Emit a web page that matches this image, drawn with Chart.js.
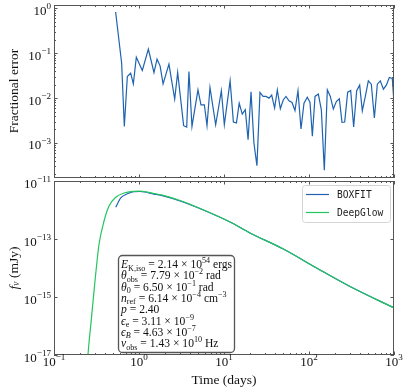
<!DOCTYPE html>
<html>
<head>
<meta charset="utf-8">
<script src="https://cdn.jsdelivr.net/npm/chart.js@4.4.1/dist/chart.umd.min.js"></script>
<style>
  html, body { margin: 0; background: #fff; }
  #wrap { position: relative; width: 407px; height: 391px; }
  canvas { position: absolute; left: 0; top: 0; }
</style>
</head>
<body>
<div id="wrap">
  <canvas id="errChart" width="407" height="391"></canvas>
  <canvas id="fluxChart" width="407" height="391"></canvas>
</div>
<script>
// ── DATA ─────────────────────────────────────────────
const errTime = [0.531, 0.625, 0.672, 0.729, 0.798, 0.858, 0.930, 1.094, 1.288, 1.50, 1.63, 1.77, 1.92, 2.25, 2.63, 2.85,
  3.35, 3.64, 3.87, 4.20, 4.94, 5.36, 5.87, 6.31, 6.84, 7.98, 9.31, 10.09, 11.8, 12.9, 14.0, 15.1, 16.4, 17.8, 19.2,
  20.8, 22.5, 24.4, 26.5, 28.8, 31.2, 33.8, 36.4, 39.4, 42.4, 46.0, 49.9, 53.6, 58.2, 63.1, 68.4, 74.2, 80.5, 87.3,
  95.5, 102.8, 109.5, 117.7, 128.8, 139.7, 151.4, 164.3, 178.2, 193.3, 209.7, 227.5, 244.5, 262.9, 285.1, 309.3,
  335.2, 363.8, 394.6, 423.8, 460.0, 498.9, 541.0, 587.4, 636.8, 690.6, 749.9, 812.8, 881.0, 955.0, 1000];
const errValue = [0.829, 0.060, 0.00234, 0.0303, 0.036, 0.0208, 0.0815, 0.0412, 0.123, 0.0372, 0.0736, 0.0523, 0.0208,
  0.057, 0.0095, 0.0372, 0.00243, 0.00227, 0.0392, 0.00234, 0.0153, 0.0071, 0.0071, 0.00243, 0.0173, 0.00255, 0.0146,
  0.00255, 0.0243, 0.00293, 0.00278, 0.0077, 0.0044, 0.0055, 0.00119, 0.0138, 0.0010, 0.000313, 0.0134, 0.0109, 0.0109,
  0.0100, 0.0117, 0.0060, 0.0153, 0.0058, 0.0092, 0.0109, 0.0087, 0.0080, 0.0053, 0.0146, 0.00205, 0.0077, 0.0105,
  0.0080, 0.00141, 0.0109, 0.0123, 0.0055, 0.000247, 0.0153, 0.0109, 0.0057, 0.0084, 0.0097, 0.00288, 0.00293, 0.0136,
  0.0148, 0.00227, 0.0146, 0.0195, 0.0052, 0.0109, 0.0243, 0.0205, 0.0036, 0.0205, 0.0243, 0.0158, 0.0195, 0.0288,
  0.0274, 0.0077];

const boxTime = [0.532, 0.61, 0.743, 0.873, 1.03, 1.50, 1.93, 3.04, 4.77, 11.8, 20.2, 49.9, 123, 304, 1000];
const boxFlux = [1.24e-12, 2.6e-12, 3.7e-12, 4.3e-12, 4.35e-12, 3.55e-12, 3.05e-12, 2.05e-12, 1.25e-12, 3.86e-13,
  1.62e-13, 4.5e-14, 1.0e-14, 2.3e-15, 4.2e-16];

const glowTime = [0.245, 0.251, 0.276, 0.306, 0.338, 0.388, 0.444, 0.532, 0.667, 0.873, 1.03, 1.50, 1.93, 3.04, 4.77,
  11.8, 20.2, 49.9, 123, 304, 1000];
const glowFlux = [3.2e-18, 1e-17, 1.9e-16, 4.5e-15, 6.35e-14, 4.18e-13, 1.37e-12, 2.74e-12, 3.85e-12, 4.41e-12, 4.5e-12,
  3.7e-12, 3.21e-12, 2.13e-12, 1.27e-12, 3.86e-13, 1.62e-13, 4.5e-14, 1.0e-14, 2.3e-15, 4.2e-16];

const xDecades = [-1, 0, 1, 2, 3];
const errDecades = [0, -1, -2, -3];
const fluxDecades = [-11, -13, -15, -17];

// parameter box: [text, style]  i = italic, b = subscript, p = superscript
const paramLines = [
  [['E', 'i'], ['K,iso', 'b'], [' = 2.14 × 10', ''], ['54', 'p'], [' ergs', '']],
  [['θ', 'i'], ['obs', 'b'], [' = 7.79 × 10', ''], ['−2', 'p'], [' rad', '']],
  [['θ', 'i'], ['0', 'b'], [' = 6.50 × 10', ''], ['−1', 'p'], [' rad', '']],
  [['n', 'i'], ['ref', 'b'], [' = 6.14 × 10', ''], ['−4', 'p'], [' cm', ''], ['−3', 'p']],
  [['p', 'i'], [' = 2.40', '']],
  [['ϵ', 'i'], ['e', 'b'], [' = 3.11 × 10', ''], ['−9', 'p']],
  [['ϵ', 'i'], ['B', 'bi'], [' = 4.63 × 10', ''], ['−7', 'p']],
  [['ν', 'i'], ['obs', 'b'], [' = 1.43 × 10', ''], ['10', 'p'], [' Hz', '']]
];

const BLUE = '#1f63b0';
const GREEN = '#22c55e';
const FRAME = '#555555';
const SERIF = '"Liberation Serif", "DejaVu Serif", serif';
const MONO = '"DejaVu Sans Mono", monospace';

// ── helpers ──────────────────────────────────────────
function rich(ctx, x, y, parts, size, measureOnly) {
  const x0 = x;
  parts.forEach(([t, s]) => {
    const small = s.includes('b') || s.includes('p');
    const fs = small ? size * 0.7 : size;
    ctx.font = (s.includes('i') ? 'italic ' : '') + fs + 'px ' + SERIF;
    const dy = s.includes('b') ? size * 0.22 : s.includes('p') ? -size * 0.42 : 0;
    if (!measureOnly) ctx.fillText(t, x, y + dy);
    x += ctx.measureText(t).width;
  });
  return x - x0;
}
const pow10 = e => [['10', ''], [e < 0 ? '−' + (-e) : String(e), 'p']];

function frameTicks(cfg) {
  return {
    id: 'frameTicks',
    afterDraw(chart) {
      const { ctx, chartArea: a, scales: { x, y } } = chart;
      ctx.save();
      ctx.strokeStyle = FRAME;
      ctx.lineWidth = 1;
      ctx.strokeRect(a.left + 0.5, a.top + 0.5, a.right - a.left - 1, a.bottom - a.top - 1);
      ctx.beginPath();
      // x ticks on top and bottom
      xDecades.forEach(e => {
        for (let k = 1; k <= 9; k++) {
          const v = k * Math.pow(10, e);
          if (v < x.min * 0.999 || v > x.max * 1.001) continue;
          const px = Math.round(x.getPixelForValue(v)) + 0.5;
          const len = k === 1 ? 3.5 : 2;
          ctx.moveTo(px, a.bottom); ctx.lineTo(px, a.bottom - len);
          ctx.moveTo(px, a.top); ctx.lineTo(px, a.top + len);
        }
      });
      // y ticks on left and right
      cfg.yMajor.forEach(e => {
        const ks = cfg.yMinor ? [1, 2, 3, 4, 5, 6, 7, 8, 9] : [1];
        ks.forEach(k => {
          const v = k * Math.pow(10, e);
          if (v < y.min || v > y.max) return;
          const py = Math.round(y.getPixelForValue(v)) + 0.5;
          const len = k === 1 ? 3.5 : 2;
          ctx.moveTo(a.left, py); ctx.lineTo(a.left + len, py);
          ctx.moveTo(a.right, py); ctx.lineTo(a.right - len, py);
        });
      });
      ctx.stroke();

      ctx.fillStyle = '#111';
      ctx.textAlign = 'left';
      ctx.textBaseline = 'alphabetic';
      cfg.yLabels.forEach(e => {
        const py = y.getPixelForValue(Math.pow(10, e));
        const w = rich(ctx, 0, 0, pow10(e), 13, true);
        rich(ctx, a.left - 3 - w, py + 6.5, pow10(e), 13);
      });
      if (cfg.xLabels) {
        xDecades.forEach(e => {
          const px = x.getPixelForValue(Math.pow(10, e));
          const w = rich(ctx, 0, 0, pow10(e), 13, true);
          rich(ctx, px - w / 2, a.bottom + 10.5, pow10(e), 13);
        });
      }
      ctx.restore();
    }
  };
}

const logX = { type: 'logarithmic', min: 0.1, max: 1000, display: false };
const baseOpts = {
  responsive: false,
  animation: false,
  events: [],
  plugins: { legend: { display: false }, tooltip: { enabled: false } }
};

// ── FRACTIONAL ERROR PANEL ───────────────────────────
new Chart(document.getElementById('errChart'), {
  type: 'line',
  data: {
    datasets: [{
      data: errTime.map((t, i) => ({ x: t, y: errValue[i] })),
      borderColor: BLUE, borderWidth: 1.2, pointRadius: 0, tension: 0
    }]
  },
  options: {
    ...baseOpts,
    layout: { padding: { left: 54, right: 13, top: 5, bottom: 213 } },
    scales: {
      x: logX,
      y: { type: 'logarithmic', min: Math.pow(10, -3.78), max: Math.pow(10, 0.075), display: false }
    }
  },
  plugins: [frameTicks({ yMajor: [-4, -3, -2, -1, 0], yMinor: true, yLabels: errDecades, xLabels: false }), {
    id: 'errLabel',
    afterDraw(chart) {
      const { ctx } = chart;
      ctx.save();
      ctx.translate(14, 91);
      ctx.rotate(-Math.PI / 2);
      ctx.font = '13.5px ' + SERIF;
      ctx.fillStyle = '#111';
      ctx.textAlign = 'center';
      ctx.textBaseline = 'middle';
      ctx.fillText('Fractional error', 0, 0);
      ctx.restore();
    }
  }]
});

// ── FLUX PANEL ───────────────────────────────────────
new Chart(document.getElementById('fluxChart'), {
  type: 'line',
  data: {
    datasets: [
      { label: 'BOXFIT', data: boxTime.map((t, i) => ({ x: t, y: boxFlux[i] })),
        borderColor: BLUE, borderWidth: 1.2, pointRadius: 0, cubicInterpolationMode: 'monotone', order: 2 },
      { label: 'DeepGlow', data: glowTime.map((t, i) => ({ x: t, y: glowFlux[i] })),
        borderColor: GREEN, borderWidth: 1.2, pointRadius: 0, cubicInterpolationMode: 'monotone', order: 1 }
    ]
  },
  options: {
    ...baseOpts,
    layout: { padding: { left: 54, right: 13, top: 181, bottom: 36 } },
    scales: {
      x: logX,
      y: { type: 'logarithmic', min: 1e-17, max: 1e-11, display: false }
    }
  },
  plugins: [frameTicks({ yMajor: fluxDecades, yMinor: false, yLabels: fluxDecades, xLabels: true }), {
    id: 'fluxDecor',
    afterDraw(chart) {
      const { ctx } = chart;
      ctx.save();
      // legend
      ctx.beginPath();
      ctx.roundRect(302.5, 185.5, 88, 37, 3);
      ctx.fillStyle = 'rgba(255,255,255,0.8)';
      ctx.fill();
      ctx.strokeStyle = '#d4d4d4';
      ctx.lineWidth = 1;
      ctx.stroke();
      chart.data.datasets.forEach((ds, i) => {
        const ly = 194.5 + i * 18;
        ctx.beginPath();
        ctx.moveTo(306, ly); ctx.lineTo(329, ly);
        ctx.strokeStyle = ds.borderColor;
        ctx.lineWidth = 1.2;
        ctx.stroke();
        ctx.font = '9.6px ' + MONO;
        ctx.fillStyle = '#222';
        ctx.textBaseline = 'middle';
        ctx.fillText(ds.label, 337, ly + 0.5);
      });

      // parameter box
      ctx.beginPath();
      ctx.roundRect(118.5, 255.5, 116, 97, 4);
      ctx.fillStyle = 'rgba(255,255,255,0.9)';
      ctx.fill();
      ctx.strokeStyle = '#555';
      ctx.lineWidth = 1.3;
      ctx.stroke();
      ctx.fillStyle = '#111';
      ctx.textBaseline = 'alphabetic';
      paramLines.forEach((parts, i) => rich(ctx, 121, 268 + i * 11.3, parts, 11.6));

      // axis titles
      ctx.font = '13.5px ' + SERIF;
      ctx.textAlign = 'center';
      ctx.fillText('Time (days)', 224, 384);
      ctx.textAlign = 'left';
      ctx.translate(14, 268);
      ctx.rotate(-Math.PI / 2);
      const lbl = [['f', 'i'], ['ν', 'bi'], [' (mJy)', '']];
      const w = rich(ctx, 0, 0, lbl, 13.5, true);
      ctx.textBaseline = 'middle';
      rich(ctx, -w / 2, 0, lbl, 13.5);
      ctx.restore();
    }
  }]
});
</script>
</body>
</html>
